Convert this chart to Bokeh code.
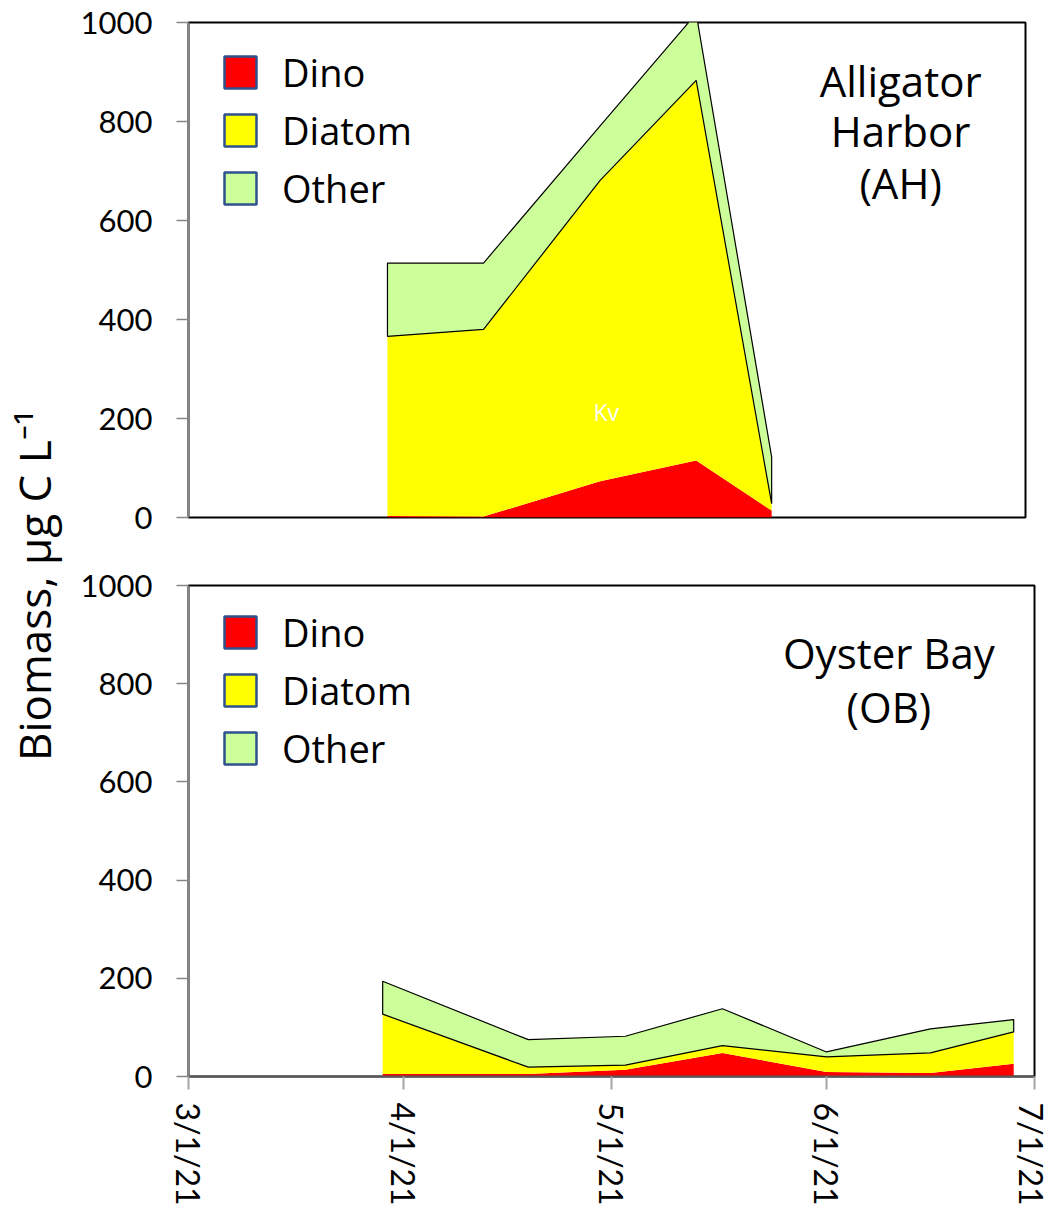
import numpy as np
import pandas as pd
from bokeh.plotting import figure
from bokeh.layouts import row, column
from bokeh.models import Range1d, FixedTicker
from bokeh.core.properties import value
from bokeh.embed import file_html
from bokeh.resources import INLINE

# ---- data -------------------------------------------------------------
groups = ["Dino", "Diatom", "Other"]
group_colors = ["#FF0000", "#FFFF00", "#CCFF99"]

# Alligator Harbor (AH), biomass in ug C per L
ah_dates = ["2021-03-30", "2021-04-13", "2021-04-30", "2021-05-14", "2021-05-25"]
ah_dino = [3, 2, 73, 115, 14]
ah_diatom = [363, 378, 608, 768, 14]
ah_other = [148, 134, 110, 135, 94]

# Oyster Bay (OB)
ob_dates = ["2021-03-29", "2021-04-19", "2021-05-03", "2021-05-17",
            "2021-06-01", "2021-06-16", "2021-06-28"]
ob_dino = [5, 5, 14, 48, 9, 7, 26]
ob_diatom = [122, 14, 9, 15, 31, 41, 65]
ob_other = [67, 56, 59, 75, 10, 49, 25]

tick_dates = ["2021-03-01", "2021-04-01", "2021-05-01", "2021-06-01", "2021-07-01"]
tick_labels = ["3/1/21", "4/1/21", "5/1/21", "6/1/21", "7/1/21"]
y_ticks = [0, 200, 400, 600, 800, 1000]

ylabel = "Biomass, µg C L⁻¹"

TICK_FONT = "Lato"
TEXT_FONT = "Open Sans"
DAY_MS = 86400000.0
LEFT_W = 72           # width of the strip holding the shared y title


def to_ms(dates):
    return pd.to_datetime(dates).values.astype("datetime64[ms]").astype("int64").astype(float)


tick_ms = to_ms(tick_dates)
x_start, x_end = tick_ms[0], tick_ms[-1]


def panel(dates, dino, diatom, other, frame_w, frame_h, border_top, border_bottom,
          border_right, show_xaxis, legend_loc):
    x = to_ms(dates)
    d1 = np.array(dino, dtype=float)
    d2 = d1 + np.array(diatom, dtype=float)
    d3 = d2 + np.array(other, dtype=float)

    p = figure(frame_width=frame_w, frame_height=frame_h, output_backend="svg",
               toolbar_location=None, x_axis_type="datetime",
               x_axis_location="below" if show_xaxis else None,
               x_range=Range1d(x_start, x_end), y_range=Range1d(0, 1000),
               min_border_left=188 - LEFT_W, min_border_right=border_right,
               min_border_top=border_top, min_border_bottom=border_bottom)
    p.background_fill_color = "white"
    p.border_fill_color = "white"
    p.outline_line_color = "black"
    p.outline_line_width = 2
    p.xgrid.visible = False
    p.ygrid.visible = False

    # stacked areas
    p.varea(x=x, y1=np.zeros_like(d1), y2=d1, fill_color=group_colors[0])
    p.varea(x=x, y1=d1, y2=d2, fill_color=group_colors[1])
    p.patch(x=np.concatenate([x, x[::-1]]), y=np.concatenate([d3, d2[::-1]]),
            fill_color=group_colors[2], line_color="black", line_width=1.2)

    # legend swatches (legend-only glyphs, no visible data)
    for name, col in zip(groups, group_colors):
        p.quad(left=[np.nan], right=[np.nan], top=[np.nan], bottom=[np.nan],
               fill_color=col, line_color="#2F528F", line_width=2.5,
               legend_label=name)
    lg = p.legend[0]
    lg.location = legend_loc
    lg.margin = 0
    lg.padding = 0
    lg.spacing = 6
    lg.glyph_width = 40
    lg.glyph_height = 40
    lg.label_standoff = 22
    lg.label_text_font = TEXT_FONT
    lg.label_text_font_size = "38px"
    lg.label_text_color = "black"
    lg.background_fill_alpha = 0
    lg.border_line_alpha = 0

    ya = p.yaxis[0]
    ya.ticker = FixedTicker(ticks=y_ticks)
    ya.axis_line_color = "#868686"
    ya.axis_line_width = 2
    ya.major_tick_line_color = "#868686"
    ya.major_tick_line_width = 1.5
    ya.major_tick_out = 12
    ya.major_tick_in = 0
    ya.minor_tick_line_color = None
    ya.major_label_standoff = 24
    ya.major_label_text_font = TICK_FONT
    ya.major_label_text_font_size = "31px"
    ya.major_label_text_color = "black"

    if show_xaxis:
        xa = p.xaxis[0]
        xa.ticker = FixedTicker(ticks=list(tick_ms))
        xa.major_label_overrides = {float(t): lab for t, lab in zip(tick_ms, tick_labels)}
        xa.major_label_orientation = "vertical"
        xa.axis_line_color = "#595959"
        xa.axis_line_width = 2
        xa.major_tick_line_color = "#A6A6A6"
        xa.major_tick_line_width = 2
        xa.major_tick_out = 13
        xa.major_tick_in = 0
        xa.minor_tick_line_color = None
        xa.major_label_standoff = 13
        xa.major_label_text_font = TICK_FONT
        xa.major_label_text_font_size = "32px"
        xa.major_label_text_color = "black"
    return p


top = panel(ah_dates, ah_dino, ah_diatom, ah_other, frame_w=837, frame_h=495,
            border_top=22, border_bottom=33, border_right=25, show_xaxis=False,
            legend_loc=(32, 303))
bot = panel(ob_dates, ob_dino, ob_diatom, ob_other, frame_w=846, frame_h=491,
            border_top=35, border_bottom=120, border_right=16, show_xaxis=True,
            legend_loc=(32, 302))

# station names
ah_name_x = x_start + 103.8 * DAY_MS
top.text(x=[ah_name_x] * 3, y=[883, 782, 677], text=["Alligator", "Harbor", "(AH)"],
         text_font=value(TEXT_FONT), text_font_size="42px", text_color="black",
         text_align="center", text_baseline="middle")
top.text(x=[x_start + 60.9 * DAY_MS], y=[214], text=["Kv"],
         text_font=value(TEXT_FONT), text_font_size="23px", text_color="white",
         text_align="center", text_baseline="middle")

ob_name_x = x_start + 101.0 * DAY_MS
bot.text(x=[ob_name_x] * 2, y=[864, 754], text=["Oyster Bay", "(OB)"],
         text_font=value(TEXT_FONT), text_font_size="42px", text_color="black",
         text_align="center", text_baseline="middle")

# shared y-axis title, drawn as the axis label of a narrow strip whose
# frame is centred between the two panels
lab = figure(width=LEFT_W, height=1215, output_backend="svg", toolbar_location=None,
             x_range=Range1d(0, 1), y_range=Range1d(0, 1),
             min_border_left=0, min_border_right=0, min_border_top=0,
             min_border_bottom=45, x_axis_location=None, y_axis_location="left")
lab.outline_line_color = None
lab.xgrid.visible = False
lab.ygrid.visible = False
la = lab.yaxis[0]
la.ticker = FixedTicker(ticks=[])
la.axis_line_color = None
la.major_tick_line_color = None
la.minor_tick_line_color = None
la.major_label_text_font_size = "0px"
la.axis_label = ylabel
la.axis_label_standoff = 0
la.axis_label_text_font = TEXT_FONT
la.axis_label_text_font_size = "44px"
la.axis_label_text_font_style = "normal"
la.axis_label_text_color = "black"

layout = row(lab, column(top, bot, spacing=0), spacing=0)

with open("out.html", "w") as f:
    f.write(file_html(layout, INLINE))
